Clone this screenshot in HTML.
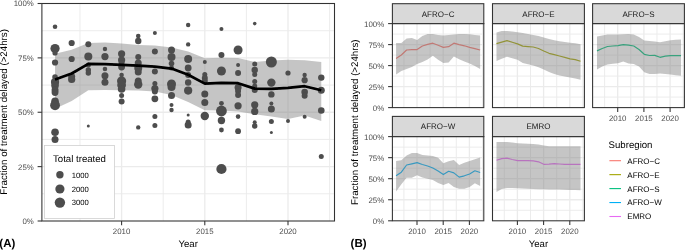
<!DOCTYPE html>
<html><head><meta charset="utf-8"><style>
html,body{margin:0;padding:0;background:#fff;overflow:hidden;}
svg{display:block;font-family:"Liberation Sans", sans-serif;will-change:transform;text-rendering:geometricPrecision;}
</style></head><body>
<svg width="685" height="250" viewBox="0 0 685 250">
<defs><filter id="soft" filterUnits="userSpaceOnUse" x="0" y="0" width="685" height="250"><feGaussianBlur stdDeviation="0.3"/></filter></defs>
<rect width="685" height="250" fill="#fff"/>
<g filter="url(#soft)">
<line x1="80" y1="3.5" x2="80" y2="221" stroke="#EBEBEB" stroke-width="0.95"/>
<line x1="121.6" y1="3.5" x2="121.6" y2="221" stroke="#EBEBEB" stroke-width="1.3"/>
<line x1="163.2" y1="3.5" x2="163.2" y2="221" stroke="#EBEBEB" stroke-width="0.95"/>
<line x1="204.8" y1="3.5" x2="204.8" y2="221" stroke="#EBEBEB" stroke-width="1.3"/>
<line x1="246.4" y1="3.5" x2="246.4" y2="221" stroke="#EBEBEB" stroke-width="0.95"/>
<line x1="288" y1="3.5" x2="288" y2="221" stroke="#EBEBEB" stroke-width="1.3"/>
<line x1="329.6" y1="3.5" x2="329.6" y2="221" stroke="#EBEBEB" stroke-width="0.95"/>
<line x1="41.9" y1="193.81" x2="334.5" y2="193.81" stroke="#EBEBEB" stroke-width="0.95"/>
<line x1="41.9" y1="166.62" x2="334.5" y2="166.62" stroke="#EBEBEB" stroke-width="1.3"/>
<line x1="41.9" y1="139.44" x2="334.5" y2="139.44" stroke="#EBEBEB" stroke-width="0.95"/>
<line x1="41.9" y1="112.25" x2="334.5" y2="112.25" stroke="#EBEBEB" stroke-width="1.3"/>
<line x1="41.9" y1="85.06" x2="334.5" y2="85.06" stroke="#EBEBEB" stroke-width="0.95"/>
<line x1="41.9" y1="57.88" x2="334.5" y2="57.88" stroke="#EBEBEB" stroke-width="1.3"/>
<line x1="41.9" y1="30.69" x2="334.5" y2="30.69" stroke="#EBEBEB" stroke-width="0.95"/>
<polygon points="55.04,53.8 71.68,49.7 88.32,43 104.96,42.4 121.6,43.6 138.24,45 154.88,45.5 171.52,47.6 188.16,51.5 204.8,58.2 221.44,57.8 238.08,58 254.72,62 271.36,60.4 288,59.8 304.64,60.2 321.28,62 321.28,121 304.64,115.4 288,119 271.36,116.4 254.72,114.3 238.08,111.5 221.44,110.6 204.8,110.3 188.16,102 171.52,95 154.88,91.5 138.24,90.5 121.6,90.3 104.96,89.9 88.32,90.3 71.68,101 55.04,108.8" fill="#7F7F7F" fill-opacity="0.45"/>
<circle cx="55.04" cy="26.7" r="2.3" fill="#4D4D4D"/>
<circle cx="55.04" cy="48.6" r="4.6" fill="#4D4D4D"/>
<circle cx="55.04" cy="53" r="2.6" fill="#4D4D4D"/>
<circle cx="55.04" cy="62.5" r="3.1" fill="#4D4D4D"/>
<circle cx="55.04" cy="77" r="2.8" fill="#4D4D4D"/>
<circle cx="55.04" cy="82" r="4.1" fill="#4D4D4D"/>
<circle cx="55.04" cy="85.5" r="3.8" fill="#4D4D4D"/>
<circle cx="55.04" cy="90" r="3.5" fill="#4D4D4D"/>
<circle cx="55.04" cy="92.5" r="3.4" fill="#4D4D4D"/>
<circle cx="55.04" cy="101.3" r="3.8" fill="#4D4D4D"/>
<circle cx="55.04" cy="105.3" r="4.9" fill="#4D4D4D"/>
<circle cx="55.04" cy="132.3" r="3.8" fill="#4D4D4D"/>
<circle cx="55.04" cy="139.6" r="3.5" fill="#4D4D4D"/>
<circle cx="71.68" cy="43" r="3.1" fill="#4D4D4D"/>
<circle cx="71.68" cy="59" r="3.1" fill="#4D4D4D"/>
<circle cx="71.68" cy="76.5" r="3.5" fill="#4D4D4D"/>
<circle cx="71.68" cy="79.5" r="3.6" fill="#4D4D4D"/>
<circle cx="88.32" cy="44.3" r="3" fill="#4D4D4D"/>
<circle cx="88.32" cy="56.6" r="4" fill="#4D4D4D"/>
<circle cx="88.32" cy="65" r="2.5" fill="#4D4D4D"/>
<circle cx="88.32" cy="70" r="2.7" fill="#4D4D4D"/>
<circle cx="88.32" cy="73" r="2.7" fill="#4D4D4D"/>
<circle cx="88.32" cy="126" r="1.5" fill="#4D4D4D"/>
<circle cx="104.96" cy="49" r="2.2" fill="#4D4D4D"/>
<circle cx="104.96" cy="56.6" r="3.6" fill="#4D4D4D"/>
<circle cx="104.96" cy="69" r="2.3" fill="#4D4D4D"/>
<circle cx="104.96" cy="75.8" r="3.5" fill="#4D4D4D"/>
<circle cx="104.96" cy="82.3" r="3.5" fill="#4D4D4D"/>
<circle cx="121.6" cy="53.8" r="3.6" fill="#4D4D4D"/>
<circle cx="121.6" cy="60" r="3.6" fill="#4D4D4D"/>
<circle cx="121.6" cy="63" r="3" fill="#4D4D4D"/>
<circle cx="121.6" cy="67" r="3.4" fill="#4D4D4D"/>
<circle cx="121.6" cy="75" r="2.3" fill="#4D4D4D"/>
<circle cx="121.6" cy="81" r="4.6" fill="#4D4D4D"/>
<circle cx="121.6" cy="85" r="4.4" fill="#4D4D4D"/>
<circle cx="121.6" cy="89" r="3.8" fill="#4D4D4D"/>
<circle cx="121.6" cy="95.4" r="2.5" fill="#4D4D4D"/>
<circle cx="121.6" cy="101.6" r="3" fill="#4D4D4D"/>
<circle cx="138.24" cy="36" r="2.3" fill="#4D4D4D"/>
<circle cx="138.24" cy="41" r="3.2" fill="#4D4D4D"/>
<circle cx="138.24" cy="57" r="3" fill="#4D4D4D"/>
<circle cx="138.24" cy="63" r="3.5" fill="#4D4D4D"/>
<circle cx="138.24" cy="68" r="4" fill="#4D4D4D"/>
<circle cx="138.24" cy="72" r="3.5" fill="#4D4D4D"/>
<circle cx="138.24" cy="81" r="3.5" fill="#4D4D4D"/>
<circle cx="138.24" cy="84.5" r="4.2" fill="#4D4D4D"/>
<circle cx="138.24" cy="127.4" r="2.2" fill="#4D4D4D"/>
<circle cx="154.88" cy="33" r="2" fill="#4D4D4D"/>
<circle cx="154.88" cy="51.6" r="3" fill="#4D4D4D"/>
<circle cx="154.88" cy="71.6" r="3" fill="#4D4D4D"/>
<circle cx="154.88" cy="83.6" r="2.5" fill="#4D4D4D"/>
<circle cx="154.88" cy="88.5" r="3.6" fill="#4D4D4D"/>
<circle cx="154.88" cy="91.5" r="3" fill="#4D4D4D"/>
<circle cx="154.88" cy="98.8" r="3.4" fill="#4D4D4D"/>
<circle cx="154.88" cy="116.4" r="2.5" fill="#4D4D4D"/>
<circle cx="154.88" cy="125.4" r="2.5" fill="#4D4D4D"/>
<circle cx="171.52" cy="50" r="3.5" fill="#4D4D4D"/>
<circle cx="171.52" cy="57" r="4" fill="#4D4D4D"/>
<circle cx="171.52" cy="63.6" r="2.8" fill="#4D4D4D"/>
<circle cx="171.52" cy="68" r="2.5" fill="#4D4D4D"/>
<circle cx="171.52" cy="84" r="4.5" fill="#4D4D4D"/>
<circle cx="171.52" cy="87" r="4" fill="#4D4D4D"/>
<circle cx="171.52" cy="95.5" r="3.5" fill="#4D4D4D"/>
<circle cx="171.52" cy="105" r="2" fill="#4D4D4D"/>
<circle cx="171.52" cy="110" r="2.2" fill="#4D4D4D"/>
<circle cx="188.16" cy="25" r="2.2" fill="#4D4D4D"/>
<circle cx="188.16" cy="44.4" r="2.2" fill="#4D4D4D"/>
<circle cx="188.16" cy="59" r="4" fill="#4D4D4D"/>
<circle cx="188.16" cy="68" r="3.4" fill="#4D4D4D"/>
<circle cx="188.16" cy="75" r="3" fill="#4D4D4D"/>
<circle cx="188.16" cy="82.5" r="3.2" fill="#4D4D4D"/>
<circle cx="188.16" cy="90.6" r="4.1" fill="#4D4D4D"/>
<circle cx="188.16" cy="115" r="1.5" fill="#4D4D4D"/>
<circle cx="188.16" cy="122" r="2.5" fill="#4D4D4D"/>
<circle cx="188.16" cy="125" r="3.5" fill="#4D4D4D"/>
<circle cx="204.8" cy="62" r="2" fill="#4D4D4D"/>
<circle cx="204.8" cy="74.5" r="2.5" fill="#4D4D4D"/>
<circle cx="204.8" cy="78" r="3" fill="#4D4D4D"/>
<circle cx="204.8" cy="81" r="3" fill="#4D4D4D"/>
<circle cx="204.8" cy="94" r="3.5" fill="#4D4D4D"/>
<circle cx="204.8" cy="102.6" r="3.5" fill="#4D4D4D"/>
<circle cx="204.8" cy="116" r="4.2" fill="#4D4D4D"/>
<circle cx="221.44" cy="29" r="2" fill="#4D4D4D"/>
<circle cx="221.44" cy="55" r="3" fill="#4D4D4D"/>
<circle cx="221.44" cy="71" r="4.5" fill="#4D4D4D"/>
<circle cx="221.44" cy="103.3" r="2.4" fill="#4D4D4D"/>
<circle cx="221.44" cy="111" r="5.4" fill="#4D4D4D"/>
<circle cx="221.44" cy="120.5" r="3.7" fill="#4D4D4D"/>
<circle cx="221.44" cy="130" r="2.4" fill="#4D4D4D"/>
<circle cx="221.44" cy="169" r="5.1" fill="#4D4D4D"/>
<circle cx="238.08" cy="50" r="4.5" fill="#4D4D4D"/>
<circle cx="238.08" cy="65" r="2" fill="#4D4D4D"/>
<circle cx="238.08" cy="73" r="3" fill="#4D4D4D"/>
<circle cx="238.08" cy="87.5" r="3.5" fill="#4D4D4D"/>
<circle cx="238.08" cy="91" r="3" fill="#4D4D4D"/>
<circle cx="238.08" cy="95" r="3" fill="#4D4D4D"/>
<circle cx="238.08" cy="105.8" r="3.6" fill="#4D4D4D"/>
<circle cx="238.08" cy="116.6" r="2.3" fill="#4D4D4D"/>
<circle cx="238.08" cy="131.2" r="2.9" fill="#4D4D4D"/>
<circle cx="254.72" cy="23.6" r="1.8" fill="#4D4D4D"/>
<circle cx="254.72" cy="64" r="2.5" fill="#4D4D4D"/>
<circle cx="254.72" cy="70" r="3.2" fill="#4D4D4D"/>
<circle cx="254.72" cy="74.4" r="2.5" fill="#4D4D4D"/>
<circle cx="254.72" cy="81.6" r="2.5" fill="#4D4D4D"/>
<circle cx="254.72" cy="86" r="2.5" fill="#4D4D4D"/>
<circle cx="254.72" cy="90" r="3" fill="#4D4D4D"/>
<circle cx="254.72" cy="104.8" r="3.6" fill="#4D4D4D"/>
<circle cx="254.72" cy="111.4" r="3.6" fill="#4D4D4D"/>
<circle cx="254.72" cy="122.2" r="2" fill="#4D4D4D"/>
<circle cx="254.72" cy="126" r="2.7" fill="#4D4D4D"/>
<circle cx="271.36" cy="62" r="5.5" fill="#4D4D4D"/>
<circle cx="271.36" cy="82.6" r="4.2" fill="#4D4D4D"/>
<circle cx="271.36" cy="94.4" r="3.2" fill="#4D4D4D"/>
<circle cx="271.36" cy="103.6" r="2" fill="#4D4D4D"/>
<circle cx="271.36" cy="109" r="3.5" fill="#4D4D4D"/>
<circle cx="271.36" cy="121.6" r="2.5" fill="#4D4D4D"/>
<circle cx="271.36" cy="132.4" r="1.5" fill="#4D4D4D"/>
<circle cx="288" cy="73" r="2.6" fill="#4D4D4D"/>
<circle cx="288" cy="121" r="2" fill="#4D4D4D"/>
<circle cx="304.64" cy="75" r="2.2" fill="#4D4D4D"/>
<circle cx="304.64" cy="80.2" r="3.1" fill="#4D4D4D"/>
<circle cx="304.64" cy="92" r="3.3" fill="#4D4D4D"/>
<circle cx="304.64" cy="95.7" r="3" fill="#4D4D4D"/>
<circle cx="304.64" cy="116.8" r="2" fill="#4D4D4D"/>
<circle cx="321.28" cy="77.6" r="3.2" fill="#4D4D4D"/>
<circle cx="321.28" cy="90.3" r="3.5" fill="#4D4D4D"/>
<circle cx="321.28" cy="110.5" r="3.3" fill="#4D4D4D"/>
<circle cx="321.28" cy="156.5" r="2.5" fill="#4D4D4D"/>
<polyline points="55.04,79.5 71.68,73.5 88.32,63.8 104.96,64.2 121.6,64.8 138.24,65.6 154.88,66.6 171.52,68.6 188.16,74.8 204.8,83.6 221.44,82.8 238.08,83.2 254.72,88.6 271.36,88.8 288,87.8 304.64,86.2 321.28,90.3" fill="none" stroke="#000" stroke-width="2.7" stroke-linejoin="round"/>
<rect x="44.5" y="145.5" width="70" height="73" fill="#fff" stroke="#D0D0D0" stroke-width="0.8"/>
<text x="53" y="162" font-size="9.65" fill="#000">Total treated</text>
<circle cx="59.9" cy="174.8" r="3.7" fill="#4D4D4D"/>
<text x="71.8" y="177.6" font-size="7.7" fill="#000">1000</text>
<circle cx="59.9" cy="189" r="4.6" fill="#4D4D4D"/>
<text x="71.8" y="191.8" font-size="7.7" fill="#000">2000</text>
<circle cx="59.9" cy="202.6" r="5.2" fill="#4D4D4D"/>
<text x="71.8" y="205.4" font-size="7.7" fill="#000">3000</text>
<rect x="41.9" y="3.5" width="292.6" height="217.5" fill="none" stroke="#333333" stroke-width="1.07"/>
<line x1="37.6" y1="221" x2="41.9" y2="221" stroke="#333333" stroke-width="1.07"/>
<text x="33.8" y="223.9" font-size="7.85" fill="#4D4D4D" text-anchor="end">0%</text>
<line x1="37.6" y1="166.62" x2="41.9" y2="166.62" stroke="#333333" stroke-width="1.07"/>
<text x="33.8" y="169.53" font-size="7.85" fill="#4D4D4D" text-anchor="end">25%</text>
<line x1="37.6" y1="112.25" x2="41.9" y2="112.25" stroke="#333333" stroke-width="1.07"/>
<text x="33.8" y="115.15" font-size="7.85" fill="#4D4D4D" text-anchor="end">50%</text>
<line x1="37.6" y1="57.88" x2="41.9" y2="57.88" stroke="#333333" stroke-width="1.07"/>
<text x="33.8" y="60.77" font-size="7.85" fill="#4D4D4D" text-anchor="end">75%</text>
<line x1="37.6" y1="3.5" x2="41.9" y2="3.5" stroke="#333333" stroke-width="1.07"/>
<text x="33.8" y="6.4" font-size="7.85" fill="#4D4D4D" text-anchor="end">100%</text>
<line x1="121.6" y1="221" x2="121.6" y2="225.3" stroke="#333333" stroke-width="1.07"/>
<text x="121.6" y="234.1" font-size="7.85" fill="#4D4D4D" text-anchor="middle">2010</text>
<line x1="204.8" y1="221" x2="204.8" y2="225.3" stroke="#333333" stroke-width="1.07"/>
<text x="204.8" y="234.1" font-size="7.85" fill="#4D4D4D" text-anchor="middle">2015</text>
<line x1="288" y1="221" x2="288" y2="225.3" stroke="#333333" stroke-width="1.07"/>
<text x="288" y="234.1" font-size="7.85" fill="#4D4D4D" text-anchor="middle">2020</text>
<text x="188.2" y="247.4" font-size="9.65" fill="#000" text-anchor="middle">Year</text>
<text transform="translate(6.9,111.9) rotate(-90)" font-size="9.72" fill="#000" text-anchor="middle">Fraction of treatment delayed (&gt;24hrs)</text>
<text x="-0.7" y="247" font-size="11.5" font-weight="bold" fill="#000">(A)</text>
<line x1="403.9" y1="23.6" x2="403.9" y2="107.6" stroke="#EBEBEB" stroke-width="0.95"/>
<line x1="417" y1="23.6" x2="417" y2="107.6" stroke="#EBEBEB" stroke-width="1.3"/>
<line x1="430.1" y1="23.6" x2="430.1" y2="107.6" stroke="#EBEBEB" stroke-width="0.95"/>
<line x1="443.2" y1="23.6" x2="443.2" y2="107.6" stroke="#EBEBEB" stroke-width="1.3"/>
<line x1="456.3" y1="23.6" x2="456.3" y2="107.6" stroke="#EBEBEB" stroke-width="0.95"/>
<line x1="469.4" y1="23.6" x2="469.4" y2="107.6" stroke="#EBEBEB" stroke-width="1.3"/>
<line x1="482.5" y1="23.6" x2="482.5" y2="107.6" stroke="#EBEBEB" stroke-width="0.95"/>
<line x1="392.4" y1="97.1" x2="483.8" y2="97.1" stroke="#EBEBEB" stroke-width="0.95"/>
<line x1="392.4" y1="86.6" x2="483.8" y2="86.6" stroke="#EBEBEB" stroke-width="1.3"/>
<line x1="392.4" y1="76.1" x2="483.8" y2="76.1" stroke="#EBEBEB" stroke-width="0.95"/>
<line x1="392.4" y1="65.6" x2="483.8" y2="65.6" stroke="#EBEBEB" stroke-width="1.3"/>
<line x1="392.4" y1="55.1" x2="483.8" y2="55.1" stroke="#EBEBEB" stroke-width="0.95"/>
<line x1="392.4" y1="44.6" x2="483.8" y2="44.6" stroke="#EBEBEB" stroke-width="1.3"/>
<line x1="392.4" y1="34.1" x2="483.8" y2="34.1" stroke="#EBEBEB" stroke-width="0.95"/>
<polyline points="396.09,58.4 401.34,55 406.6,50 411.85,49.6 417.1,49.6 422.35,46 427.61,44.4 432.86,43.2 438.11,45.3 443.36,47.4 448.62,46.7 453.87,43.2 459.12,44.7 464.37,45.8 469.63,47.4 474.88,48.6 480.13,50" fill="none" stroke="#F8766D" stroke-width="1.2" stroke-linejoin="round"/>
<polygon points="396.09,43 401.34,43 406.6,38.4 411.85,38 417.1,40 422.35,36 427.61,34 432.86,34 438.11,35 443.36,35.4 448.62,35 453.87,34.4 459.12,34 464.37,34 469.63,34.3 474.88,35 480.13,35.6 480.13,69 474.88,66 469.63,63.5 464.37,61.5 459.12,59.3 453.87,56.6 448.62,62.4 443.36,62.9 438.11,59.7 432.86,55.7 427.61,59.5 422.35,62 417.1,64 411.85,67 406.6,69 401.34,71 396.09,74.4" fill="#7F7F7F" fill-opacity="0.45"/>
<rect x="392.4" y="23.6" width="91.4" height="84" fill="none" stroke="#333333" stroke-width="1.07"/>
<rect x="392.4" y="3.7" width="91.4" height="19.9" fill="#D9D9D9" stroke="#333333" stroke-width="1.07"/>
<text x="438.1" y="16.55" font-size="8" fill="#1A1A1A" text-anchor="middle">AFRO&#8722;C</text>
<line x1="388.1" y1="107.6" x2="392.4" y2="107.6" stroke="#333333" stroke-width="1.07"/>
<text x="384.2" y="111.1" font-size="7.9" fill="#4D4D4D" text-anchor="end">0%</text>
<line x1="388.1" y1="86.6" x2="392.4" y2="86.6" stroke="#333333" stroke-width="1.07"/>
<text x="384.2" y="90.1" font-size="7.9" fill="#4D4D4D" text-anchor="end">25%</text>
<line x1="388.1" y1="65.6" x2="392.4" y2="65.6" stroke="#333333" stroke-width="1.07"/>
<text x="384.2" y="69.1" font-size="7.9" fill="#4D4D4D" text-anchor="end">50%</text>
<line x1="388.1" y1="44.6" x2="392.4" y2="44.6" stroke="#333333" stroke-width="1.07"/>
<text x="384.2" y="48.1" font-size="7.9" fill="#4D4D4D" text-anchor="end">75%</text>
<line x1="388.1" y1="23.6" x2="392.4" y2="23.6" stroke="#333333" stroke-width="1.07"/>
<text x="384.2" y="27.1" font-size="7.9" fill="#4D4D4D" text-anchor="end">100%</text>
<line x1="504.3" y1="23.6" x2="504.3" y2="107.6" stroke="#EBEBEB" stroke-width="0.95"/>
<line x1="517.4" y1="23.6" x2="517.4" y2="107.6" stroke="#EBEBEB" stroke-width="1.3"/>
<line x1="530.5" y1="23.6" x2="530.5" y2="107.6" stroke="#EBEBEB" stroke-width="0.95"/>
<line x1="543.6" y1="23.6" x2="543.6" y2="107.6" stroke="#EBEBEB" stroke-width="1.3"/>
<line x1="556.7" y1="23.6" x2="556.7" y2="107.6" stroke="#EBEBEB" stroke-width="0.95"/>
<line x1="569.8" y1="23.6" x2="569.8" y2="107.6" stroke="#EBEBEB" stroke-width="1.3"/>
<line x1="582.9" y1="23.6" x2="582.9" y2="107.6" stroke="#EBEBEB" stroke-width="0.95"/>
<line x1="492.5" y1="97.1" x2="584.4" y2="97.1" stroke="#EBEBEB" stroke-width="0.95"/>
<line x1="492.5" y1="86.6" x2="584.4" y2="86.6" stroke="#EBEBEB" stroke-width="1.3"/>
<line x1="492.5" y1="76.1" x2="584.4" y2="76.1" stroke="#EBEBEB" stroke-width="0.95"/>
<line x1="492.5" y1="65.6" x2="584.4" y2="65.6" stroke="#EBEBEB" stroke-width="1.3"/>
<line x1="492.5" y1="55.1" x2="584.4" y2="55.1" stroke="#EBEBEB" stroke-width="0.95"/>
<line x1="492.5" y1="44.6" x2="584.4" y2="44.6" stroke="#EBEBEB" stroke-width="1.3"/>
<line x1="492.5" y1="34.1" x2="584.4" y2="34.1" stroke="#EBEBEB" stroke-width="0.95"/>
<polyline points="496.49,43.7 501.74,42.2 507,40.6 512.25,42.3 517.5,43.9 522.75,46.1 528.01,46.6 533.26,47 538.51,48.5 543.76,51 549.02,53.3 554.27,54.6 559.52,56 564.77,57.4 570.03,58.8 575.28,59.6 580.53,61.3" fill="none" stroke="#A3A500" stroke-width="1.2" stroke-linejoin="round"/>
<polygon points="496.49,32.4 501.74,31 507,31 512.25,31.5 517.5,32.2 522.75,33 528.01,34 533.26,35 538.51,36 543.76,37.5 549.02,39 554.27,40.3 559.52,41.2 564.77,42 570.03,42.7 575.28,43.3 580.53,44.2 580.53,79.7 575.28,78.4 570.03,77.5 564.77,76.6 559.52,75.6 554.27,74 549.02,72 543.76,69.5 538.51,67.3 533.26,65.4 528.01,64.2 522.75,62.9 517.5,59.8 512.25,58.3 507,56.7 501.74,58.8 496.49,61" fill="#7F7F7F" fill-opacity="0.45"/>
<rect x="492.5" y="23.6" width="91.9" height="84" fill="none" stroke="#333333" stroke-width="1.07"/>
<rect x="492.5" y="3.7" width="91.9" height="19.9" fill="#D9D9D9" stroke="#333333" stroke-width="1.07"/>
<text x="538.45" y="16.55" font-size="8" fill="#1A1A1A" text-anchor="middle">AFRO&#8722;E</text>
<line x1="604.6" y1="23.6" x2="604.6" y2="107.6" stroke="#EBEBEB" stroke-width="0.95"/>
<line x1="617.7" y1="23.6" x2="617.7" y2="107.6" stroke="#EBEBEB" stroke-width="1.3"/>
<line x1="630.8" y1="23.6" x2="630.8" y2="107.6" stroke="#EBEBEB" stroke-width="0.95"/>
<line x1="643.9" y1="23.6" x2="643.9" y2="107.6" stroke="#EBEBEB" stroke-width="1.3"/>
<line x1="657" y1="23.6" x2="657" y2="107.6" stroke="#EBEBEB" stroke-width="0.95"/>
<line x1="670.1" y1="23.6" x2="670.1" y2="107.6" stroke="#EBEBEB" stroke-width="1.3"/>
<line x1="683.2" y1="23.6" x2="683.2" y2="107.6" stroke="#EBEBEB" stroke-width="0.95"/>
<line x1="592.6" y1="97.1" x2="684.4" y2="97.1" stroke="#EBEBEB" stroke-width="0.95"/>
<line x1="592.6" y1="86.6" x2="684.4" y2="86.6" stroke="#EBEBEB" stroke-width="1.3"/>
<line x1="592.6" y1="76.1" x2="684.4" y2="76.1" stroke="#EBEBEB" stroke-width="0.95"/>
<line x1="592.6" y1="65.6" x2="684.4" y2="65.6" stroke="#EBEBEB" stroke-width="1.3"/>
<line x1="592.6" y1="55.1" x2="684.4" y2="55.1" stroke="#EBEBEB" stroke-width="0.95"/>
<line x1="592.6" y1="44.6" x2="684.4" y2="44.6" stroke="#EBEBEB" stroke-width="1.3"/>
<line x1="592.6" y1="34.1" x2="684.4" y2="34.1" stroke="#EBEBEB" stroke-width="0.95"/>
<polyline points="596.99,50.9 602.25,48.5 607.5,46.5 612.75,46 618,45.6 623.26,44.7 628.51,45.1 633.76,46 639.01,49.5 644.27,54.3 649.52,55.5 654.77,55.4 660.02,57.3 665.28,56.2 670.53,55.7 675.78,55.6 681.03,55.7" fill="none" stroke="#00BF7D" stroke-width="1.2" stroke-linejoin="round"/>
<polygon points="596.99,36.5 602.25,35.5 607.5,34.6 612.75,34.6 618,34.6 623.26,34.3 628.51,34.1 633.76,34.6 639.01,37 644.27,40.5 649.52,41 654.77,41.5 660.02,42.3 665.28,41.2 670.53,40.3 675.78,39.8 681.03,39.4 681.03,75.8 675.78,75.2 670.53,74.6 665.28,74 660.02,73.4 654.77,74 649.52,74 644.27,72.3 639.01,66.5 633.76,64 628.51,63.4 623.26,61.5 618,63.2 612.75,63.8 607.5,64.4 602.25,66.5 596.99,69.4" fill="#7F7F7F" fill-opacity="0.45"/>
<rect x="592.6" y="23.6" width="91.8" height="84" fill="none" stroke="#333333" stroke-width="1.07"/>
<rect x="592.6" y="3.7" width="91.8" height="19.9" fill="#D9D9D9" stroke="#333333" stroke-width="1.07"/>
<text x="638.5" y="16.55" font-size="8" fill="#1A1A1A" text-anchor="middle">AFRO&#8722;S</text>
<line x1="617.7" y1="107.6" x2="617.7" y2="111.9" stroke="#333333" stroke-width="1.07"/>
<text x="617.7" y="120.8" font-size="7.9" fill="#4D4D4D" text-anchor="middle">2010</text>
<line x1="643.9" y1="107.6" x2="643.9" y2="111.9" stroke="#333333" stroke-width="1.07"/>
<text x="643.9" y="120.8" font-size="7.9" fill="#4D4D4D" text-anchor="middle">2015</text>
<line x1="670.1" y1="107.6" x2="670.1" y2="111.9" stroke="#333333" stroke-width="1.07"/>
<text x="670.1" y="120.8" font-size="7.9" fill="#4D4D4D" text-anchor="middle">2020</text>
<line x1="403.9" y1="136.6" x2="403.9" y2="220.8" stroke="#EBEBEB" stroke-width="0.95"/>
<line x1="417" y1="136.6" x2="417" y2="220.8" stroke="#EBEBEB" stroke-width="1.3"/>
<line x1="430.1" y1="136.6" x2="430.1" y2="220.8" stroke="#EBEBEB" stroke-width="0.95"/>
<line x1="443.2" y1="136.6" x2="443.2" y2="220.8" stroke="#EBEBEB" stroke-width="1.3"/>
<line x1="456.3" y1="136.6" x2="456.3" y2="220.8" stroke="#EBEBEB" stroke-width="0.95"/>
<line x1="469.4" y1="136.6" x2="469.4" y2="220.8" stroke="#EBEBEB" stroke-width="1.3"/>
<line x1="482.5" y1="136.6" x2="482.5" y2="220.8" stroke="#EBEBEB" stroke-width="0.95"/>
<line x1="392.4" y1="210.28" x2="483.8" y2="210.28" stroke="#EBEBEB" stroke-width="0.95"/>
<line x1="392.4" y1="199.75" x2="483.8" y2="199.75" stroke="#EBEBEB" stroke-width="1.3"/>
<line x1="392.4" y1="189.22" x2="483.8" y2="189.22" stroke="#EBEBEB" stroke-width="0.95"/>
<line x1="392.4" y1="178.7" x2="483.8" y2="178.7" stroke="#EBEBEB" stroke-width="1.3"/>
<line x1="392.4" y1="168.18" x2="483.8" y2="168.18" stroke="#EBEBEB" stroke-width="0.95"/>
<line x1="392.4" y1="157.65" x2="483.8" y2="157.65" stroke="#EBEBEB" stroke-width="1.3"/>
<line x1="392.4" y1="147.12" x2="483.8" y2="147.12" stroke="#EBEBEB" stroke-width="0.95"/>
<polyline points="396.09,175.8 401.34,172.2 406.6,165 411.85,163.8 417.1,162.6 422.35,164.5 427.61,166 432.86,168 438.11,171 443.36,174.6 448.62,171.3 453.87,172.9 459.12,177.1 464.37,175.8 469.63,174 474.88,170.8 480.13,172.5" fill="none" stroke="#00B0F6" stroke-width="1.2" stroke-linejoin="round"/>
<polygon points="396.09,160.9 401.34,160.2 406.6,155.4 411.85,153 417.1,153 422.35,155 427.61,155.4 432.86,156 438.11,157.8 443.36,163.3 448.62,161.3 453.87,159.9 459.12,165 464.37,162.8 469.63,161 474.88,159.2 480.13,157.6 480.13,186 474.88,183.3 469.63,187 464.37,188.7 459.12,188.7 453.87,186.9 448.62,183 443.36,185.1 438.11,183 432.86,180 427.61,178.8 422.35,177.5 417.1,175.3 411.85,177.7 406.6,177.7 401.34,184.2 396.09,191.4" fill="#7F7F7F" fill-opacity="0.45"/>
<rect x="392.4" y="136.6" width="91.4" height="84.2" fill="none" stroke="#333333" stroke-width="1.07"/>
<rect x="392.4" y="116.4" width="91.4" height="20.2" fill="#D9D9D9" stroke="#333333" stroke-width="1.07"/>
<text x="438.1" y="129.4" font-size="8" fill="#1A1A1A" text-anchor="middle">AFRO&#8722;W</text>
<line x1="388.1" y1="220.8" x2="392.4" y2="220.8" stroke="#333333" stroke-width="1.07"/>
<text x="384.2" y="224.3" font-size="7.9" fill="#4D4D4D" text-anchor="end">0%</text>
<line x1="388.1" y1="199.75" x2="392.4" y2="199.75" stroke="#333333" stroke-width="1.07"/>
<text x="384.2" y="203.25" font-size="7.9" fill="#4D4D4D" text-anchor="end">25%</text>
<line x1="388.1" y1="178.7" x2="392.4" y2="178.7" stroke="#333333" stroke-width="1.07"/>
<text x="384.2" y="182.2" font-size="7.9" fill="#4D4D4D" text-anchor="end">50%</text>
<line x1="388.1" y1="157.65" x2="392.4" y2="157.65" stroke="#333333" stroke-width="1.07"/>
<text x="384.2" y="161.15" font-size="7.9" fill="#4D4D4D" text-anchor="end">75%</text>
<line x1="388.1" y1="136.6" x2="392.4" y2="136.6" stroke="#333333" stroke-width="1.07"/>
<text x="384.2" y="140.1" font-size="7.9" fill="#4D4D4D" text-anchor="end">100%</text>
<line x1="417" y1="220.8" x2="417" y2="225.1" stroke="#333333" stroke-width="1.07"/>
<text x="417" y="234" font-size="7.9" fill="#4D4D4D" text-anchor="middle">2010</text>
<line x1="443.2" y1="220.8" x2="443.2" y2="225.1" stroke="#333333" stroke-width="1.07"/>
<text x="443.2" y="234" font-size="7.9" fill="#4D4D4D" text-anchor="middle">2015</text>
<line x1="469.4" y1="220.8" x2="469.4" y2="225.1" stroke="#333333" stroke-width="1.07"/>
<text x="469.4" y="234" font-size="7.9" fill="#4D4D4D" text-anchor="middle">2020</text>
<line x1="504.3" y1="136.6" x2="504.3" y2="220.8" stroke="#EBEBEB" stroke-width="0.95"/>
<line x1="517.4" y1="136.6" x2="517.4" y2="220.8" stroke="#EBEBEB" stroke-width="1.3"/>
<line x1="530.5" y1="136.6" x2="530.5" y2="220.8" stroke="#EBEBEB" stroke-width="0.95"/>
<line x1="543.6" y1="136.6" x2="543.6" y2="220.8" stroke="#EBEBEB" stroke-width="1.3"/>
<line x1="556.7" y1="136.6" x2="556.7" y2="220.8" stroke="#EBEBEB" stroke-width="0.95"/>
<line x1="569.8" y1="136.6" x2="569.8" y2="220.8" stroke="#EBEBEB" stroke-width="1.3"/>
<line x1="582.9" y1="136.6" x2="582.9" y2="220.8" stroke="#EBEBEB" stroke-width="0.95"/>
<line x1="492.5" y1="210.28" x2="584.4" y2="210.28" stroke="#EBEBEB" stroke-width="0.95"/>
<line x1="492.5" y1="199.75" x2="584.4" y2="199.75" stroke="#EBEBEB" stroke-width="1.3"/>
<line x1="492.5" y1="189.22" x2="584.4" y2="189.22" stroke="#EBEBEB" stroke-width="0.95"/>
<line x1="492.5" y1="178.7" x2="584.4" y2="178.7" stroke="#EBEBEB" stroke-width="1.3"/>
<line x1="492.5" y1="168.18" x2="584.4" y2="168.18" stroke="#EBEBEB" stroke-width="0.95"/>
<line x1="492.5" y1="157.65" x2="584.4" y2="157.65" stroke="#EBEBEB" stroke-width="1.3"/>
<line x1="492.5" y1="147.12" x2="584.4" y2="147.12" stroke="#EBEBEB" stroke-width="0.95"/>
<polyline points="496.49,160.2 501.74,158.6 507,158.2 512.25,159.5 517.5,160.6 522.75,160.6 528.01,160.6 533.26,160.8 538.51,161.8 543.76,164.3 549.02,164.1 554.27,163.6 559.52,164 564.77,164.3 570.03,164.3 575.28,164.3 580.53,164.4" fill="none" stroke="#E76BF3" stroke-width="1.2" stroke-linejoin="round"/>
<polygon points="496.49,142 501.74,142 507,142 512.25,142.4 517.5,143.2 522.75,143.6 528.01,143.8 533.26,144 538.51,144.4 543.76,145.5 549.02,146.2 554.27,146.2 559.52,146.2 564.77,146.2 570.03,146.2 575.28,146.2 580.53,146.2 580.53,190.2 575.28,190 570.03,189.9 564.77,189.8 559.52,189.6 554.27,189.5 549.02,189.4 543.76,189.3 538.51,189.2 533.26,189 528.01,188.7 522.75,188.5 517.5,188.3 512.25,188.1 507,187.9 501.74,189 496.49,192" fill="#7F7F7F" fill-opacity="0.45"/>
<rect x="492.5" y="136.6" width="91.9" height="84.2" fill="none" stroke="#333333" stroke-width="1.07"/>
<rect x="492.5" y="116.4" width="91.9" height="20.2" fill="#D9D9D9" stroke="#333333" stroke-width="1.07"/>
<text x="538.45" y="129.4" font-size="8" fill="#1A1A1A" text-anchor="middle">EMRO</text>
<line x1="517.4" y1="220.8" x2="517.4" y2="225.1" stroke="#333333" stroke-width="1.07"/>
<text x="517.4" y="234" font-size="7.9" fill="#4D4D4D" text-anchor="middle">2010</text>
<line x1="543.6" y1="220.8" x2="543.6" y2="225.1" stroke="#333333" stroke-width="1.07"/>
<text x="543.6" y="234" font-size="7.9" fill="#4D4D4D" text-anchor="middle">2015</text>
<line x1="569.8" y1="220.8" x2="569.8" y2="225.1" stroke="#333333" stroke-width="1.07"/>
<text x="569.8" y="234" font-size="7.9" fill="#4D4D4D" text-anchor="middle">2020</text>
<text x="538.4" y="247.4" font-size="9.65" fill="#000" text-anchor="middle">Year</text>
<text transform="translate(357.7,122.2) rotate(-90)" font-size="9.72" fill="#000" text-anchor="middle">Fraction of treatment delayed (&gt;24hrs)</text>
<text x="350.6" y="247" font-size="11.5" font-weight="bold" fill="#000">(B)</text>
<text x="608.6" y="148" font-size="9.65" fill="#000">Subregion</text>
<line x1="609.4" y1="160.7" x2="621" y2="160.7" stroke="#F8766D" stroke-width="1.1"/>
<text x="627.3" y="163.6" font-size="8" fill="#000">AFRO&#8722;C</text>
<line x1="609.4" y1="174.65" x2="621" y2="174.65" stroke="#A3A500" stroke-width="1.1"/>
<text x="627.3" y="177.55" font-size="8" fill="#000">AFRO&#8722;E</text>
<line x1="609.4" y1="188.6" x2="621" y2="188.6" stroke="#00BF7D" stroke-width="1.1"/>
<text x="627.3" y="191.5" font-size="8" fill="#000">AFRO&#8722;S</text>
<line x1="609.4" y1="202.55" x2="621" y2="202.55" stroke="#00B0F6" stroke-width="1.1"/>
<text x="627.3" y="205.45" font-size="8" fill="#000">AFRO&#8722;W</text>
<line x1="609.4" y1="216.5" x2="621" y2="216.5" stroke="#E76BF3" stroke-width="1.1"/>
<text x="627.3" y="219.4" font-size="8" fill="#000">EMRO</text>
</g>
</svg>
</body></html>
